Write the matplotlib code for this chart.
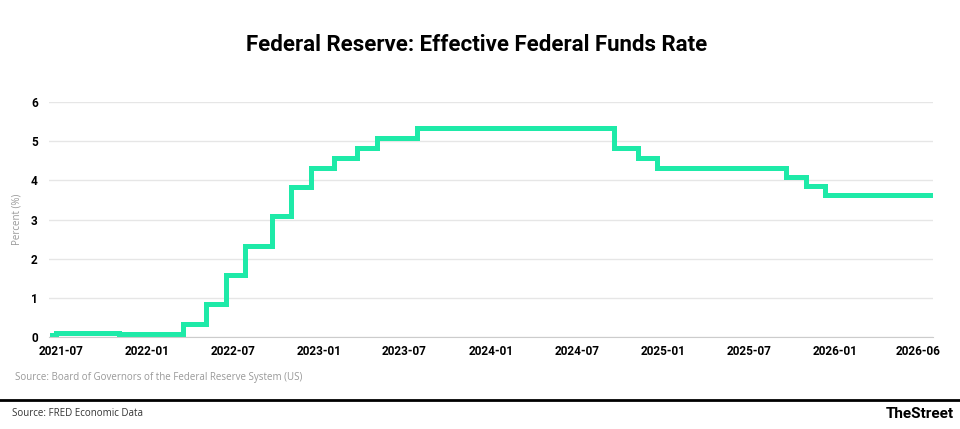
import matplotlib
matplotlib.use('Agg')
import matplotlib.pyplot as plt
import pandas as pd

# step changes of the effective federal funds rate (date the new level starts, %)
change_dates = ['2021-06-12', '2021-06-20', '2021-08-20', '2021-11-01',
                '2022-03-17', '2022-05-05', '2022-06-16', '2022-07-28',
                '2022-09-22', '2022-11-03', '2022-12-15', '2023-02-02',
                '2023-03-23', '2023-05-04', '2023-07-27', '2024-09-19',
                '2024-11-08', '2024-12-19', '2025-09-18', '2025-10-30',
                '2025-12-11', '2026-07-25']
rates = [0.05, 0.10, 0.09, 0.08,
         0.33, 0.83, 1.58, 2.33,
         3.08, 3.83, 4.33, 4.58,
         4.83, 5.08, 5.33, 4.83,
         4.58, 4.33, 4.10, 3.87,
         3.64, 3.64]

tick_dates = ['2021-07-01', '2022-01-01', '2022-07-01', '2023-01-01', '2023-07-01',
              '2024-01-01', '2024-07-01', '2025-01-01', '2025-07-01', '2026-01-01',
              '2026-06-26']
tick_labels = ['2021-07', '2022-01', '2022-07', '2023-01', '2023-07', '2024-01',
               '2024-07', '2025-01', '2025-07', '2026-01', '2026-06']

cond = ['Liberation Sans Narrow', 'Roboto', 'DejaVu Sans']

fig = plt.figure(figsize=(9.6, 4.29), dpi=100)
ax = fig.add_axes([0.051, 0.215, 0.921, 0.5465])

ax.plot(pd.to_datetime(change_dates), rates, drawstyle='steps-post',
        color='#1eeaa8', lw=3.6, solid_joinstyle='miter')

ax.set_ylim(0, 6)
ax.set_xlim(pd.Timestamp('2021-06-06'), pd.Timestamp('2026-07-28'))
ax.set_yticks(range(7))
ax.set_xticks(pd.to_datetime(tick_dates))
ax.set_xticklabels(tick_labels)
ax.grid(axis='y', color='#e6e6e6', lw=1)
ax.set_axisbelow(True)
for s in ['top', 'right', 'left']:
    ax.spines[s].set_visible(False)
ax.spines['bottom'].set_color('#cccccc')
ax.tick_params(length=0, labelsize=8.5)
ax.tick_params(axis='x', pad=6)
ax.tick_params(axis='y', pad=8)
for lab in ax.get_xticklabels() + ax.get_yticklabels():
    lab.set_family(cond)
    lab.set_weight('bold')
ax.set_ylabel('Percent (%)', color='#999999', fontsize=7, family='Open Sans', labelpad=6)

fig.text(0.497, 0.895, 'Federal Reserve: Effective Federal Funds Rate', ha='center', va='center',
         fontsize=16, weight='bold', family=cond)
fig.text(0.016, 0.12, 'Source: Board of Governors of the Federal Reserve System (US)',
         color='#999999', fontsize=7, family='Open Sans', va='center')
fig.add_artist(plt.Line2D([0, 1], [0.068, 0.068], transform=fig.transFigure, color='black', lw=2))
fig.text(0.012, 0.035, 'Source: FRED Economic Data', color='#333333', fontsize=7,
         family='Open Sans', va='center')
fig.text(0.994, 0.035, 'TheStreet', fontsize=11, weight='bold', family=cond,
         ha='right', va='center')

plt.savefig('out.png', dpi=100)
